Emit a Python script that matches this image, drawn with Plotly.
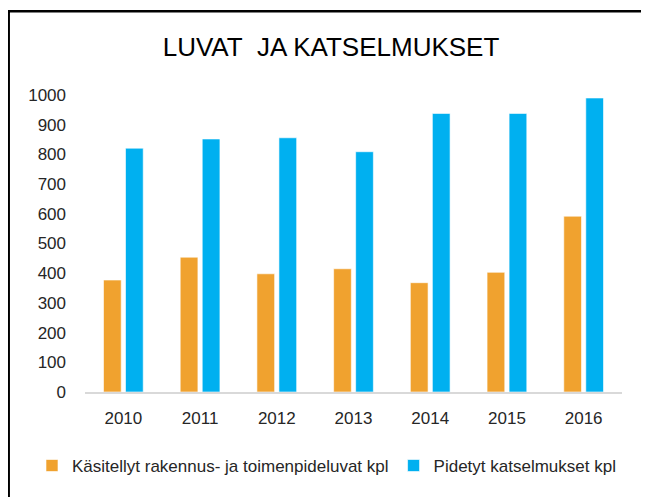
import plotly.graph_objects as go

# Data
years = ['2010', '2011', '2012', '2013', '2014', '2015', '2016']
luvat = [377, 454, 398, 415, 368, 403, 592]
katselmukset = [821, 852, 856, 809, 938, 938, 990]

name_luvat = 'Käsitellyt rakennus- ja toimenpideluvat kpl'
name_katselmukset = 'Pidetyt katselmukset kpl'

font_family = 'Liberation Sans, Arial, sans-serif'
text_color = '#262626'

# the page body adds an 8px offset, so the figure is 8px smaller than the window
W, H = 641, 489

fig = go.Figure()
fig.add_trace(go.Bar(
    x=years, y=luvat, name=name_luvat,
    marker=dict(color='#F0A22F', line=dict(color='rgba(255,255,255,0.6)', width=1)),
))
fig.add_trace(go.Bar(
    x=years, y=katselmukset, name=name_katselmukset,
    marker=dict(color='#00B0F0', line=dict(color='rgba(255,255,255,0.6)', width=1)),
))

fig.update_layout(
    width=W, height=H,
    margin=dict(l=77, r=27, t=87, b=105, autoexpand=False),
    paper_bgcolor='white', plot_bgcolor='white',
    font=dict(family=font_family, size=17, color=text_color),
    title=dict(
        text='LUVAT\u00a0 JA KATSELMUKSET',
        x=323 / W, xanchor='center',
        y=1 - 39 / H, yanchor='middle',
        font=dict(family=font_family, size=26, color='black'),
    ),
    barmode='group',
    bargap=0.426,
    bargroupgap=0.195,
    showlegend=True,
    legend=dict(
        orientation='h',
        # left of the plot area so the legend may use the full width on one row
        x=-0.0987, xanchor='left',
        y=-0.249, yanchor='middle',
        font=dict(size=17, color=text_color),
        itemwidth=30,
        traceorder='normal',
    ),
    xaxis=dict(
        type='category',
        showline=True, linecolor='#D9D9D9', linewidth=1.5,
        showgrid=False, ticks='',
        ticklabelstandoff=10,
    ),
    yaxis=dict(
        range=[0, 1000], dtick=100,
        showgrid=False, zeroline=False, showline=False, ticks='',
        ticklabelstandoff=18,
    ),
    shapes=[
        # chart frame: only the top and left edges are visible in the crop
        dict(type='rect', xref='paper', yref='paper',
             x0=-0.1421, x1=1.08, y0=-0.40, y1=1.2822,
             line=dict(color='black', width=2.5), fillcolor='rgba(0,0,0,0)'),
    ],
)

fig.write_html('out.html')
